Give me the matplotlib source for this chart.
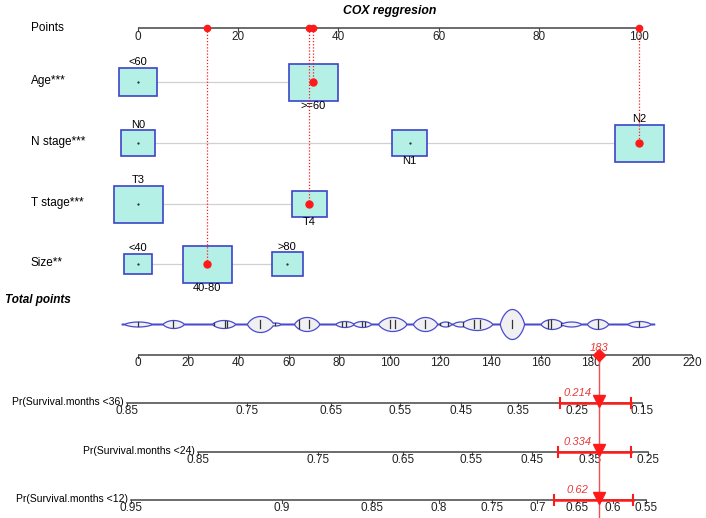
import numpy as np
import matplotlib.pyplot as plt
from matplotlib.patches import Rectangle

# ------------------------------------------------------------------ data
point_ticks = [0, 20, 40, 60, 80, 100]
total_ticks = [0, 20, 40, 60, 80, 100, 120, 140, 160, 180, 200, 220]

row_names = ['Age***', 'N stage***', 'T stage***', 'Size**']

age_levels = ['<60', '>=60']
age_points = [0, 35.0]
age_freq = [0.375, 0.625]

n_levels = ['N0', 'N1', 'N2']
n_points = [0, 54.2, 100]
n_freq = [0.24, 0.25, 0.51]

t_levels = ['T3', 'T4']
t_points = [0, 34.2]
t_freq = [0.67, 0.33]

size_levels = ['<40', '40-80', '>80']
size_points = [0, 13.8, 29.8]
size_freq = [0.18, 0.58, 0.24]

# the patient that is scored (red)
patient_levels = ['>=60', 'N2', 'T4', '40-80']
patient_total = 183

# bean plot of the total points of the cohort
bean_centres = [0, 14, 34, 48.5, 54.5, 67, 82, 89, 101, 114, 122, 128, 134.5, 148.5, 164.3, 172, 182.5, 199]
bean_heights = [2.5, 4, 4, 8, 1.5, 7, 3, 3, 7, 7, 2.5, 2.5, 6, 15, 5, 2.5, 5, 3]
bean_widths = [5.5, 4.2, 4.6, 5.2, 2.2, 5, 3.6, 3.6, 5.6, 4.8, 2.4, 3, 6.2, 4.8, 4.4, 4, 4.2, 4.6]
bean_ticks = [0, 14, 30, 34.5, 35.5, 48.5, 54.5, 64, 68, 81, 82.5, 89, 90, 100, 102, 114,
              119, 120, 123, 129, 133.5, 136, 148.5, 163, 164, 168, 182.5, 199]

surv_names = ['Pr(Survival.months <36)', 'Pr(Survival.months <24)', 'Pr(Survival.months <12)']
surv_ticks = [
    [0.85, 0.75, 0.65, 0.55, 0.45, 0.35, 0.25, 0.15],
    [0.85, 0.75, 0.65, 0.55, 0.45, 0.35, 0.25],
    [0.95, 0.9, 0.85, 0.8, 0.75, 0.7, 0.65, 0.6, 0.55],
]
surv_tick_labels = [
    ['0.85', '0.75', '0.65', '0.55', '0.45', '0.35', '0.25', '0.15'],
    ['0.85', '0.75', '0.65', '0.55', '0.45', '0.35', '0.25'],
    ['0.95', '0.9', '0.85', '0.8', '0.75', '0.7', '0.65', '0.6', '0.55'],
]
surv_pred = [0.214, 0.334, 0.62]
surv_pred_labels = ['0.214', '0.334', '0.62']
surv_lo = [0.278, 0.405, 0.680]
surv_hi = [0.166, 0.279, 0.569]

# ------------------------------------------------------------------ layout
tp_scale = 0.5026          # total points -> points axis units
k_cox = 83.3               # total points per unit of log(-log S)

box_col = '#b4f0e6'
box_edge = '#3c44c8'
red = '#ff1a1a'
axcol = '#444444'

plt.rcParams['font.family'] = ['Liberation Sans', 'DejaVu Sans']

fig = plt.figure(figsize=(7.06, 5.18), dpi=100)
ax = fig.add_axes([0, 0, 1, 1])
ax.set_xlim(-138 / 5.01, (706 - 138) / 5.01)
ax.set_ylim(518, 0)
ax.axis('off')

px = 1 / 5.01  # one pixel in x units


def hline_axis(y, ticks, labels, x0, x1, fs=8.5, lab_off=2.5, col=axcol):
    ax.plot([x0, x1], [y, y], color=col, lw=1.1, solid_capstyle='butt')
    for t, l in zip(ticks, labels):
        ax.plot([t, t], [y, y + 3], color=col, lw=0.8)
        ax.text(t, y + lab_off, l, ha='center', va='top', fontsize=fs, color='#222222')


# title
ax.text(50.2, 11, 'COX reggresion', ha='center', va='center', fontsize=8.8,
        fontweight='bold', style='italic')

# points axis
ax.text(-21.4, 28, 'Points', ha='left', va='center', fontsize=8.5)
hline_axis(28, point_ticks, [str(t) for t in point_ticks], 0, 100)

rows_levels = [age_levels, n_levels, t_levels, size_levels]
rows_points = [age_points, n_points, t_points, size_points]
rows_freq = [age_freq, n_freq, t_freq, size_freq]
rows_y = [82, 143, 204, 264]

for name, levels, pts, freq, y in zip(row_names, rows_levels, rows_points, rows_freq, rows_y):
    ax.text(-21.4, y - 1, name, ha='left', va='center', fontsize=8.5)
    ax.plot([min(pts), max(pts)], [y, y], color='#d0d0d0', lw=0.9, zorder=1)
    fmax = max(freq)
    for i, (lev, p, f) in enumerate(zip(levels, pts, freq)):
        s = np.sqrt(f / fmax)
        w = 49 * px * s
        h = 37 * s
        ax.add_patch(Rectangle((p - w / 2, y - h / 2), w, h, facecolor=box_col,
                               edgecolor=box_edge, lw=1.2, zorder=2))
        if i % 2 == 0:
            ax.text(p, y - h / 2 - 0.5, lev, ha='center', va='bottom', fontsize=8, zorder=3)
        else:
            ax.text(p, y + h / 2 + 0.5, lev, ha='center', va='top', fontsize=8, zorder=3)
        if lev in patient_levels:
            ax.plot([p, p], [28, y], color=red, lw=0.9, ls=(0, (1, 1.5)), zorder=4)
            ax.plot(p, 28, 'o', color=red, ms=4.5, zorder=5)
            ax.plot(p, y, 'o', color=red, ms=5, zorder=5)
        else:
            ax.plot(p, y, '.', color='#222222', ms=1.2, zorder=3)

# total points: bean plot
ax.text(-26.6, 300, 'Total points', ha='left', va='center', fontsize=8.5,
        fontweight='bold', style='italic')
yb = 324
grid = np.linspace(-6.5, 205, 2000)
dens = np.full_like(grid, 0.4)
for c, hgt, wd in zip(bean_centres, bean_heights, bean_widths):
    u = np.clip(1 - ((grid - c) / wd) ** 2, 0, None)
    dens = np.maximum(dens, hgt * u ** 0.75)
gx = grid * tp_scale
ax.fill_between(gx, yb - dens, yb + dens, facecolor='#f0f0f2', edgecolor='#4a4ad0', lw=0.9)
for t in bean_ticks:
    d = np.interp(t, grid, dens)
    hh = min(4, d * 0.75)
    ax.plot([t * tp_scale, t * tp_scale], [yb - hh, yb + hh], color='#333333', lw=0.9)

ytot = 355
hline_axis(ytot, [t * tp_scale for t in total_ticks], [str(t) for t in total_ticks],
           0, 220 * tp_scale)

xt = patient_total * tp_scale
ax.plot([xt, xt], [ytot, 518], color='#f05050', lw=1, zorder=4)
ax.plot(xt, ytot, 'D', color=red, ms=6, zorder=5)
ax.text(xt, ytot - 2, str(patient_total), ha='center', va='bottom', color='#e83a3a',
        fontsize=8, style='italic', zorder=6)


# survival axes
def surv_to_x(p, pred):
    lin = np.log(-np.log(p)) - np.log(-np.log(pred))
    return (patient_total + k_cox * lin) * tp_scale


surv_y = [403, 452, 500]
for name, ticks, labs, pred, plab, lo, hi, y in zip(surv_names, surv_ticks, surv_tick_labels,
                                                    surv_pred, surv_pred_labels, surv_lo,
                                                    surv_hi, surv_y):
    xs = [surv_to_x(t, pred) for t in ticks]
    ax.plot([xs[0], xs[-1]], [y, y], color=axcol, lw=1.1)
    for x, l in zip(xs, labs):
        ax.plot([x, x], [y, y + 3], color=axcol, lw=0.8)
        ax.text(x, y + 2, l, ha='center', va='top', fontsize=8.5, color='#222222')
    ax.text(xs[0] - 0.6, y - 1, name, ha='right', va='center', fontsize=7.5)
    xl, xh = surv_to_x(lo, pred), surv_to_x(hi, pred)
    ax.plot([xl, xh], [y, y], color=red, lw=1.8, zorder=5)
    ax.plot([xl, xl], [y - 5, y + 5], color=red, lw=1.5, zorder=5)
    ax.plot([xh, xh], [y - 5, y + 5], color=red, lw=1.5, zorder=5)
    ax.plot(xt, y - 2, 'v', color=red, ms=8, zorder=6)
    ax.text(xt - 4.2, y - 5, plab, ha='center', va='bottom', color='#e83a3a',
            fontsize=8, style='italic', zorder=6)

fig.savefig('out.png', dpi=100)
